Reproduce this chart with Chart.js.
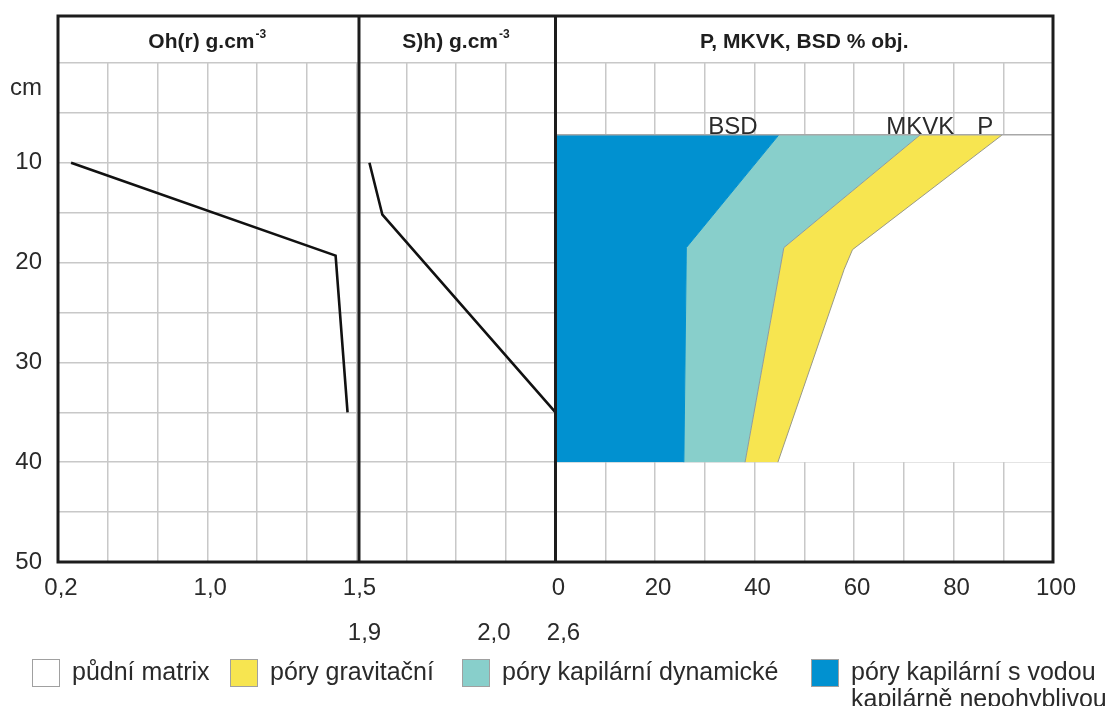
<!DOCTYPE html>
<html>
<head>
<meta charset="utf-8">
<title>Půdní profil</title>
<script src="https://cdn.jsdelivr.net/npm/chart.js@4.4.1/dist/chart.umd.min.js"></script>
<style>
    html, body { margin: 0; padding: 0; background: #fff; }
    #graf { width: 1108px; height: 706px; }
</style>
</head>
<body>
<div id="graf"><canvas id="profil" width="1108" height="706"></canvas></div>
<script>
// hloubka v cm (popisky svisle osy)
var hloubky = [10, 20, 30, 40, 50];

// Oh(r) g.cm-3
var ohHloubka = [10, 19.3, 35];
var ohHodnota = [0.27, 1.43, 1.47];

// S)h) g.cm-3
var shHloubka = [10, 15.2, 35];
var shHodnota = [1.91, 1.92, 2.6];

// P, MKVK, BSD % obj.
var poryHloubka = [7.2, 18.5, 40];
var bsd = [44.9, 26.3, 25.8];
var mkvk = [73.3, 45.9, 38.1];
var pHloubka = [7.2, 18.7, 20.7, 40];
var porovitost = [89.8, 59.7, 58.0, 44.7];

// popisky vodorovnych os
var ohTicks = [0.2, 1.0, 1.5];
var shTicks = [1.9, 2.0, 2.6];
var procTicks = [0, 20, 40, 60, 80, 100];

var titulky = [['Oh(r) g.cm', '-3'], ['S)h) g.cm', '-3'], ['P, MKVK, BSD % obj.', '']];
var legenda = ['půdní matrix', 'póry gravitační', 'póry kapilární dynamické',
    ['póry kapilární s vodou', 'kapilárně nepohyblivou']];

// rozlozeni - sloupce mrizky (20 sloupcu pres cely ramecek)
var ohSloupce = [0, 3, 6];
var shSloupce = [6, 8.6, 10];
var procSloupce = [10, 20];
var predely = [6.05, 10];
var stredyPanelu = [3, 8, 15];
var legendaX = [32, 230, 462, 811];

var modra = '#0191d0';
var tyrkys = '#88cfcb';
var zluta = '#f7e550';
var pismo = '"Liberation Sans", Arial, sans-serif';

Chart.defaults.font.family = pismo;
Chart.defaults.color = '#2a2a2a';

function naSloupec(v, hodnoty, sloupce) {
    for (var i = 1; i < hodnoty.length; i++) {
        if (v <= hodnoty[i] || i === hodnoty.length - 1) {
            var t = (v - hodnoty[i - 1]) / (hodnoty[i] - hodnoty[i - 1]);
            return sloupce[i - 1] + t * (sloupce[i] - sloupce[i - 1]);
        }
    }
}
function procNaSloupec(p) {
    return procSloupce[0] + p / 100 * (procSloupce[1] - procSloupce[0]);
}
function carka(v) {
    return v.toFixed(1).replace('.', ',');
}
function body(hodnoty, hl, prevod) {
    return hodnoty.map(function (v, i) {
        return { x: prevod ? prevod(v) : v, y: hl[i] };
    });
}

var radek1 = ohTicks.map(function (v) { return { col: naSloupec(v, ohTicks, ohSloupce), text: carka(v) }; })
    .concat(procTicks.map(function (p) { return { col: procNaSloupec(p), text: String(p) }; }));
var radek2 = shTicks.map(function (v) { return { col: naSloupec(v, shTicks, shSloupce), text: carka(v) }; });

var ramecek = {
    id: 'ramecek',
    afterDatasetsDraw: function (chart) {
        var ctx = chart.ctx;
        ctx.save();
        ctx.font = '24px ' + pismo;
        ctx.fillStyle = '#2a2a2a';
        ctx.textAlign = 'center';
        ctx.textBaseline = 'alphabetic';
        chart.data.datasets.forEach(function (ds, i) {
            if (!ds.znacka) return;
            var p = chart.getDatasetMeta(i).data[0];
            ctx.fillText(ds.znacka, p.x + ds.znackaPosun, p.y - 1);
        });
        ctx.restore();
    },
    afterDraw: function (chart) {
        var ctx = chart.ctx, a = chart.chartArea, col = chart.scales.col;
        var top = a.top - 47;
        ctx.save();
        ctx.strokeStyle = '#1c1c1c';
        ctx.lineWidth = 3;
        ctx.strokeRect(a.left, top, a.right - a.left, a.bottom - top);
        predely.forEach(function (c) {
            var x = col.getPixelForValue(c);
            ctx.beginPath();
            ctx.moveTo(x, top);
            ctx.lineTo(x, a.bottom);
            ctx.stroke();
        });

        // nadpisy panelu
        ctx.fillStyle = '#1e1e1e';
        ctx.textAlign = 'left';
        ctx.textBaseline = 'middle';
        titulky.forEach(function (t, i) {
            ctx.font = 'bold 21px ' + pismo;
            var w = ctx.measureText(t[0]).width;
            ctx.font = 'bold 12px ' + pismo;
            var ws = t[1] ? ctx.measureText(t[1]).width + 1 : 0;
            var x0 = col.getPixelForValue(stredyPanelu[i]) - (w + ws) / 2;
            ctx.font = 'bold 21px ' + pismo;
            ctx.fillText(t[0], x0, top + 26);
            if (t[1]) {
                ctx.font = 'bold 12px ' + pismo;
                ctx.fillText(t[1], x0 + w + 1, top + 19);
            }
        });

        // legenda
        var polozky = chart.data.datasets.filter(function (ds) { return ds.legenda; }).reverse();
        polozky.forEach(function (ds, i) {
            var x = legendaX[i], y = 659;
            ctx.fillStyle = ds.backgroundColor;
            ctx.fillRect(x, y, 28, 28);
            ctx.strokeStyle = '#a0a0a0';
            ctx.lineWidth = 1;
            ctx.strokeRect(x + 0.5, y + 0.5, 27, 27);
            ctx.fillStyle = '#2a2a2a';
            ctx.font = '25px ' + pismo;
            var radky = Array.isArray(ds.label) ? ds.label : [ds.label];
            radky.forEach(function (r, j) {
                ctx.fillText(r, x + 40, y + 14 + j * 27);
            });
        });
        ctx.restore();
    }
};

new Chart(document.getElementById('profil'), {
    type: 'line',
    data: {
        datasets: [
            {
                label: 'hranice',
                data: [{ x: 0, y: poryHloubka[0] }, { x: 100, y: poryHloubka[0] }],
                xAxisID: 'xp', yAxisID: 'y',
                borderColor: '#a8a8a8', borderWidth: 1.5, fill: false
            },
            {
                label: 'Oh(r)',
                data: body(ohHodnota, ohHloubka, function (v) { return naSloupec(v, ohTicks, ohSloupce); }),
                xAxisID: 'col', yAxisID: 'y',
                borderColor: '#111', borderWidth: 2.6, fill: false
            },
            {
                label: 'S)h)',
                data: body(shHodnota, shHloubka, function (v) { return naSloupec(v, shTicks, shSloupce); }),
                xAxisID: 'col', yAxisID: 'y',
                borderColor: '#111', borderWidth: 2.6, fill: false
            },
            {
                label: legenda[3], legenda: true, znacka: 'BSD', znackaPosun: -46,
                data: body(bsd, poryHloubka),
                xAxisID: 'xp', yAxisID: 'y',
                borderColor: modra, borderWidth: 1, backgroundColor: modra,
                fill: { value: 0 }
            },
            {
                label: legenda[2], legenda: true, znacka: 'MKVK', znackaPosun: 0,
                data: body(mkvk, poryHloubka),
                xAxisID: 'xp', yAxisID: 'y',
                borderColor: '#8f9c9c', borderWidth: 1, backgroundColor: tyrkys,
                fill: '-1'
            },
            {
                label: legenda[1], legenda: true, znacka: 'P', znackaPosun: -17,
                data: body(porovitost, pHloubka),
                xAxisID: 'xp', yAxisID: 'y',
                borderColor: '#9a9a86', borderWidth: 1, backgroundColor: zluta,
                fill: '-1'
            },
            {
                label: legenda[0], legenda: true,
                data: body(porovitost, pHloubka),
                xAxisID: 'xp', yAxisID: 'y',
                borderColor: 'rgba(0,0,0,0)', borderWidth: 1, backgroundColor: '#ffffff',
                fill: { value: 100 }
            }
        ]
    },
    options: {
        indexAxis: 'y',
        responsive: false,
        animation: false,
        layout: { padding: { top: 63, right: 55, bottom: 52, left: 0 } },
        elements: { point: { radius: 0 }, line: { tension: 0 } },
        plugins: {
            legend: { display: false },
            tooltip: { enabled: false }
        },
        scales: {
            y: {
                type: 'linear', position: 'left', reverse: true, min: 0, max: 50,
                ticks: { stepSize: 5, display: false },
                grid: { color: '#c8c8c8', lineWidth: 1.5, drawTicks: false },
                border: { display: false }
            },
            yl: {
                type: 'linear', axis: 'y', position: 'left', reverse: true, min: 0, max: 50, weight: 1,
                grid: { display: false, drawTicks: false },
                border: { display: false },
                afterBuildTicks: function (s) {
                    s.ticks = [{ value: 2.5 }].concat(hloubky.map(function (h) { return { value: h }; }));
                },
                afterFit: function (s) { s.width = 58; },
                ticks: {
                    autoSkip: false, padding: 16, color: '#2a2a2a',
                    font: { size: 24 },
                    callback: function (v, i) { return i === 0 ? 'cm' : String(v); }
                }
            },
            col: {
                type: 'linear', axis: 'x', position: 'bottom', min: 0, max: 20,
                ticks: { stepSize: 1, display: false },
                grid: { color: '#c8c8c8', lineWidth: 1.5, drawTicks: false },
                border: { display: false }
            },
            xp: {
                type: 'linear', position: 'bottom', min: -100, max: 100, display: false
            },
            xa: {
                type: 'linear', position: 'bottom', min: 0, max: 20, weight: 1,
                grid: { display: false, drawTicks: false },
                border: { display: false },
                afterBuildTicks: function (s) {
                    s.ticks = radek1.map(function (t) { return { value: t.col }; });
                },
                afterFit: function (s) { s.height = 48; },
                ticks: {
                    autoSkip: false, maxRotation: 0, padding: 12, labelOffset: 3,
                    color: '#2a2a2a', font: { size: 24 },
                    callback: function (v, i) { return radek1[i].text; }
                }
            },
            xb: {
                type: 'linear', position: 'bottom', min: 0, max: 20, weight: 2,
                grid: { display: false, drawTicks: false },
                border: { display: false },
                afterBuildTicks: function (s) {
                    s.ticks = radek2.map(function (t) { return { value: t.col }; });
                },
                afterFit: function (s) { s.height = 44; },
                ticks: {
                    autoSkip: false, maxRotation: 0, padding: 9, labelOffset: 8,
                    color: '#2a2a2a', font: { size: 24 },
                    callback: function (v, i) { return radek2[i].text; }
                }
            }
        }
    },
    plugins: [ramecek]
});
</script>
</body>
</html>
